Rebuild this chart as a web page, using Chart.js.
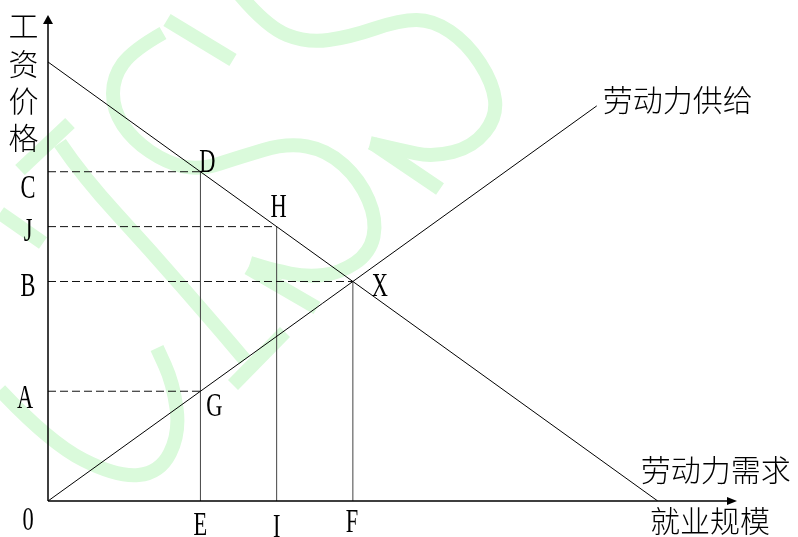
<!DOCTYPE html>
<html>
<head>
<meta charset="utf-8">
<script src="https://cdn.jsdelivr.net/npm/chart.js@4/dist/chart.umd.min.js"></script>
<style>
html, body { margin: 0; padding: 0; background: #fff; }
#wrap { width: 798px; height: 537px; }
</style>
</head>
<body>
<div id="wrap"><canvas id="labourChart" width="798" height="537"></canvas></div>
<script>
// 劳动力市场供求图 (工资价格 / 就业规模)

// 需求线与供给线的端点 (就业量, 工资)
const demandQ = [0, 10];
const demandW = [10, 0];
const supplyQ = [0, 9];
const supplyW = [0, 9];

// 图上标出的点
const pointNames = ['D', 'H', 'X', 'G'];
const pointQ = [2.5, 3.75, 5, 2.5];
const pointW = [7.5, 6.25, 5, 2.5];

// 纵轴上的工资水平 (按顺序对应 D H X G)
const wageNames = ['C', 'J', 'B', 'A'];
// 横轴上的就业量 (按顺序对应 D H X)
const qtyNames = ['E', 'I', 'F'];

// 坐标轴长度
const axisMaxQ = 11.3;
const axisMaxW = 11.07;

// 标签偏移 (像素)
const labelNudge = {
    D: [7, -10], H: [2, -20], X: [27, 4], G: [14, 14],
    C: [-20, 16], J: [-20, 4], B: [-20, 4], A: [-23, 6],
    E: [0, 23], I: [0, 25], F: [-1, 20]
};

const toPts = (qs, ws) => qs.map((q, i) => ({ x: q, y: ws[i] }));

const datasets = [];
datasets.push({ label: '劳动力需求', data: toPts(demandQ, demandW), borderColor: '#000', borderWidth: 1 });
datasets.push({ label: '劳动力供给', data: toPts(supplyQ, supplyW), borderColor: '#000', borderWidth: 1 });
wageNames.forEach((n, i) => {
    datasets.push({
        label: n,
        data: [{ x: 0, y: pointW[i] }, { x: pointQ[i], y: pointW[i] }],
        borderColor: '#111', borderWidth: 1, borderDash: [8, 4]
    });
});
qtyNames.forEach((n, i) => {
    datasets.push({
        label: n,
        data: [{ x: pointQ[i], y: 0 }, { x: pointQ[i], y: pointW[i] }],
        borderColor: '#444', borderWidth: 1
    });
});

// 背景水印 (浅绿色笔画)
const watermark = {
    id: 'watermark',
    beforeDatasetsDraw(chart) {
        const ctx = chart.ctx;
        const strokes = [
            [[240, -5], [267, 27], [307, 43], [350, 37], [400, 20], [433, 20], [467, 43], [493, 83], [497, 117], [473, 147], [433, 157], [400, 150], [370, 143]],
            [[372, 143], [440, 189]],
            [[163, 33], [133, 50], [113, 77], [113, 110], [133, 140], [167, 163], [200, 170], [240, 157], [287, 143], [327, 150], [360, 180], [377, 220], [370, 253], [340, 273], [307, 277], [273, 270], [250, 263]],
            [[167, 20], [233, 60]],
            [[248, 268], [317, 308]],
            [[20, 170], [70, 123]],
            [[60, 143], [83, 177], [150, 250], [217, 327], [245, 360]],
            [[233, 385], [285, 332]],
            [[0, 213], [43, 243]],
            [[0, 390], [50, 443], [117, 477], [160, 473], [180, 433], [173, 383], [157, 348]]
        ];
        ctx.save();
        ctx.strokeStyle = '#dafadb';
        ctx.lineWidth = 14;
        ctx.lineJoin = 'round';
        strokes.forEach(p => {
            ctx.beginPath();
            ctx.moveTo(p[0][0], p[0][1]);
            for (let i = 1; i < p.length - 1; i++) {
                const mx = (p[i][0] + p[i + 1][0]) / 2;
                const my = (p[i][1] + p[i + 1][1]) / 2;
                ctx.quadraticCurveTo(p[i][0], p[i][1], mx, my);
            }
            ctx.lineTo(p[p.length - 1][0], p[p.length - 1][1]);
            ctx.stroke();
        });
        ctx.restore();
    }
};

// 坐标轴和箭头
const axesArrows = {
    id: 'axesArrows',
    afterDatasetsDraw(chart) {
        const ctx = chart.ctx;
        const a = chart.chartArea;
        ctx.save();
        ctx.strokeStyle = '#000';
        ctx.fillStyle = '#000';
        ctx.lineWidth = 1.5;
        ctx.beginPath();
        ctx.moveTo(a.left, a.bottom);
        ctx.lineTo(a.left, a.top + 6);
        ctx.moveTo(a.left, a.bottom);
        ctx.lineTo(a.right - 6, a.bottom);
        ctx.stroke();
        ctx.beginPath();
        ctx.moveTo(a.left, a.top);
        ctx.lineTo(a.left - 5, a.top + 9);
        ctx.lineTo(a.left + 5, a.top + 9);
        ctx.closePath();
        ctx.fill();
        ctx.beginPath();
        ctx.moveTo(a.right, a.bottom);
        ctx.lineTo(a.right - 10, a.bottom - 4);
        ctx.lineTo(a.right - 10, a.bottom + 4);
        ctx.closePath();
        ctx.fill();
        ctx.restore();
    }
};

// 文字标签
const textLabels = {
    id: 'textLabels',
    afterDraw(chart) {
        const ctx = chart.ctx;
        const a = chart.chartArea;
        const xs = chart.scales.x;
        const ys = chart.scales.y;

        const letter = (t, cx, cy) => {
            ctx.save();
            ctx.translate(cx, cy + 10.5);
            ctx.scale(0.68, 1);
            ctx.font = '33px "Liberation Serif"';
            ctx.textAlign = 'center';
            ctx.textBaseline = 'alphabetic';
            ctx.fillStyle = '#000';
            ctx.fillText(t, 0, 0);
            ctx.restore();
        };

        pointNames.forEach((n, i) => {
            const d = labelNudge[n];
            letter(n, xs.getPixelForValue(pointQ[i]) + d[0], ys.getPixelForValue(pointW[i]) + d[1]);
        });
        wageNames.forEach((n, i) => {
            const d = labelNudge[n];
            letter(n, a.left + d[0], ys.getPixelForValue(pointW[i]) + d[1]);
        });
        qtyNames.forEach((n, i) => {
            const d = labelNudge[n];
            letter(n, xs.getPixelForValue(pointQ[i]) + d[0], a.bottom + d[1]);
        });
        letter('0', a.left - 20, a.bottom + 18);

        ctx.save();
        ctx.font = '300 30px "Noto Sans CJK SC"';
        ctx.fillStyle = '#000';
        ctx.textBaseline = 'middle';
        ctx.textAlign = 'center';
        ['工', '资', '价', '格'].forEach((c, i) => {
            ctx.fillText(c, a.left - 24.5, a.top + 11 + i * 37.3);
        });
        ctx.textAlign = 'left';
        ctx.fillText('劳动力供给',
            xs.getPixelForValue(supplyQ[1]) + 6, ys.getPixelForValue(supplyW[1]) - 6);
        ctx.fillText('劳动力需求',
            xs.getPixelForValue(demandQ[1]) - 17, ys.getPixelForValue(0) - 31);
        ctx.fillText('就业规模', a.right - 87, a.bottom + 20);
        ctx.restore();
    }
};

new Chart(document.getElementById('labourChart').getContext('2d'), {
    type: 'scatter',
    data: { datasets: datasets },
    options: {
        responsive: false,
        animation: false,
        showLine: true,
        elements: { point: { radius: 0 }, line: { tension: 0 } },
        layout: { padding: { left: 48, right: 61, top: 15, bottom: 36 } },
        scales: {
            x: { type: 'linear', min: 0, max: axisMaxQ, display: false },
            y: { type: 'linear', min: 0, max: axisMaxW, display: false }
        },
        plugins: {
            legend: { display: false },
            tooltip: { enabled: false }
        }
    },
    plugins: [watermark, axesArrows, textLabels]
});
</script>
</body>
</html>
